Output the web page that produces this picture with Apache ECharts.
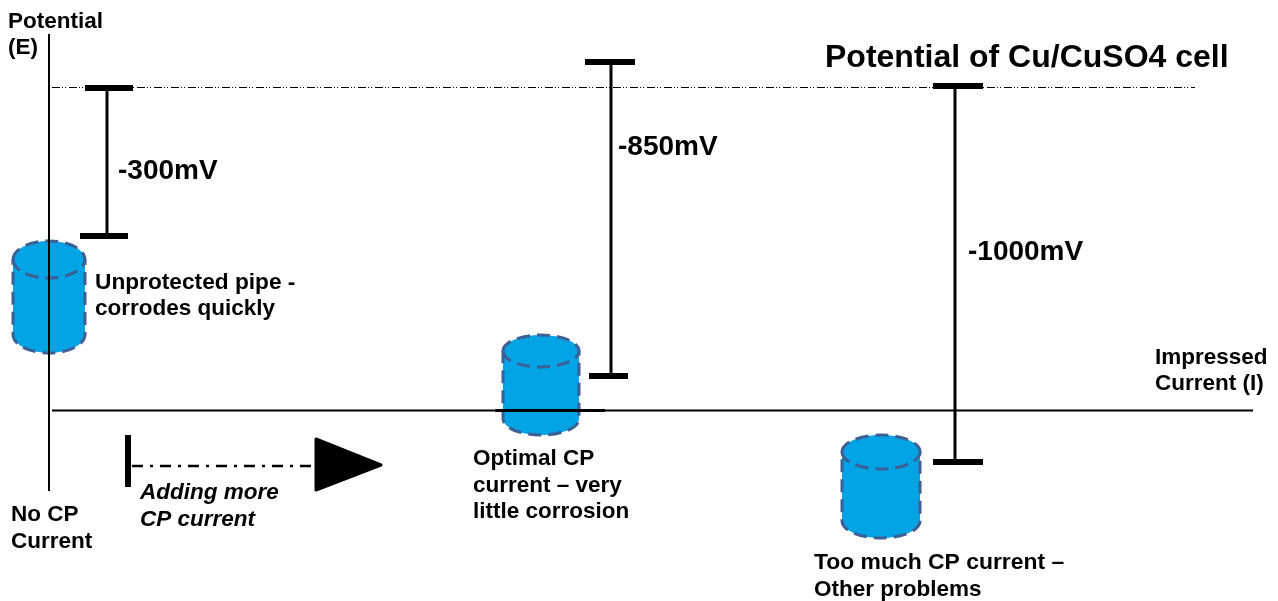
<!DOCTYPE html>
<html><head><meta charset="utf-8">
<style>html,body{margin:0;padding:0;background:#fff}#c{width:1278px;height:601px}</style>
<script src="https://cdn.jsdelivr.net/npm/echarts@6/dist/echarts.min.js"></script>
</head><body><div id="c"></div>
<script>
// Diagram units: x to the right, y downward.
const pipes = [ // cx, rx, top, ellipse bottom, base
  [49, 36, 241, 278, 353],
  [541, 38, 335, 367, 435],
  [881, 39, 435, 469, 538]
];
const axisSegments = [ // x1, y1, x2, y2, width
  [49, 34, 49, 491, 2],
  [52, 410.5, 1253, 410.5, 2],
  [495, 410.5, 605, 410.5, 3]
];
const potentialBars = [ // x1, y1, x2, y2, width
  [107, 88, 107, 236, 3], [85, 88, 133, 88, 6], [80, 236, 128, 236, 6],
  [611, 62, 611, 376, 3], [585, 62, 635, 62, 6], [589, 376, 628, 376, 6],
  [955, 86, 955, 462, 3], [933, 86, 983, 86, 6], [933, 462, 983, 462, 6],
  [128, 435, 128, 487, 6]
];
const dashedLines = [ // x1, y1, x2, y2, width, dash
  [52, 87.5, 1195, 87.5, 1, [8, 2, 1, 2, 1, 3]],
  [132, 466, 315, 466, 2.5, [11, 7, 3, 7]]
];
const arrowHead = [[316, 439], [381, 465], [316, 490]];
const labels = [ // text, x, y, size, italic
  ['Potential', 8, 21.5, 22.5, 0], ['(E)', 8, 47.5, 22.5, 0],
  ['Potential of Cu/CuSO4 cell', 825, 58, 32, 0],
  ['-300mV', 118, 171, 28, 0], ['-850mV', 618, 147, 28, 0], ['-1000mV', 968, 252, 28, 0],
  ['Unprotected pipe -', 95, 283, 22.7, 0], ['corrodes quickly', 95, 309, 22.5, 0],
  ['Optimal CP', 473, 459, 22.5, 0], ['current \u2013 very', 473, 486, 22.5, 0], ['little corrosion', 473, 512, 22.5, 0],
  ['Impressed', 1155, 358, 22.5, 0], ['Current (I)', 1155, 384, 22.5, 0],
  ['No CP', 11, 515, 22.5, 0], ['Current', 11, 542, 22.5, 0],
  ['Adding more', 140, 493, 22.5, 1], ['CP current', 140, 520, 22.5, 1],
  ['Too much CP current \u2013', 814, 563, 22.9, 0], ['Other problems', 814, 590, 22.5, 0]
];

const FILL = '#00A3E3', EDGE = '#3C5F95', FONT = '"Liberation Sans", Arial, sans-serif';

function seg(api, d) {
  const a = api.coord([d[0], d[1]]), b = api.coord([d[2], d[3]]);
  return { x1: a[0], y1: a[1], x2: b[0], y2: b[1] };
}
const lineSeries = (name, rows, z) => ({
  type: 'custom', name, coordinateSystem: 'cartesian2d', silent: true, z, clip: false,
  data: rows.map((r, i) => [r[0], r[1], i]),
  encode: { x: 0, y: 1 },
  renderItem: (p, api) => {
    const r = rows[api.value(2)];
    return { type: 'line', shape: seg(api, r),
      style: { stroke: '#000', lineWidth: r[4], lineDash: r[5] || null, fill: null } };
  }
});

const option = {
  animation: false,
  backgroundColor: '#fff',
  grid: { left: 0, right: 0, top: 0, bottom: 0 },
  xAxis: { type: 'value', min: 0, max: 1278, show: false },
  yAxis: { type: 'value', min: 0, max: 601, inverse: true, show: false },
  tooltip: { show: false },
  series: [
    {
      type: 'custom', name: 'Pipes', coordinateSystem: 'cartesian2d', silent: true, z: 2, clip: false,
      data: pipes.map((r, i) => [r[0], r[2], i]),
      encode: { x: 0, y: 1 },
      renderItem: (p, api) => {
        const [cx, rx, top, ellBottom, base] = pipes[api.value(2)];
        const l = api.coord([cx - rx, top])[0], r = api.coord([cx + rx, top])[0];
        const t = api.coord([cx, top])[1], eb = api.coord([cx, ellBottom])[1], b = api.coord([cx, base])[1];
        const ry = (eb - t) / 2, mid = t + ry, sb = b - ry, rxp = (r - l) / 2;
        const body = `M${l} ${mid}A${rxp} ${ry} 0 0 1 ${r} ${mid}L${r} ${sb}A${rxp} ${ry} 0 0 1 ${l} ${sb}Z`;
        const lip = `M${l} ${mid}A${rxp} ${ry} 0 0 0 ${r} ${mid}`;
        const edge = { stroke: EDGE, lineWidth: 3, lineDash: [13, 7] };
        return { type: 'group', children: [
          { type: 'path', shape: { pathData: body }, style: Object.assign({ fill: FILL }, edge) },
          { type: 'path', shape: { pathData: lip }, style: Object.assign({ fill: null }, edge) }
        ] };
      }
    },
    lineSeries('Dashed', dashedLines, 3),
    lineSeries('Axes', axisSegments, 4),
    lineSeries('Potential bars', potentialBars, 5),
    {
      type: 'custom', name: 'Arrow head', coordinateSystem: 'cartesian2d', silent: true, z: 5, clip: false,
      data: arrowHead,
      encode: { x: 0, y: 1 },
      renderItem: (p, api) => {
        if (p.dataIndex !== 0) return null;
        return { type: 'polygon', shape: { points: arrowHead.map(q => api.coord(q)) },
          style: { fill: '#000', stroke: '#000', lineWidth: 3, lineJoin: 'round' } };
      }
    },
    {
      type: 'custom', name: 'Labels', coordinateSystem: 'cartesian2d', silent: true, z: 6, clip: false,
      data: labels.map((r, i) => [r[1], r[2], i]),
      encode: { x: 0, y: 1 },
      renderItem: (p, api) => {
        const r = labels[api.value(2)], c = api.coord([r[1], r[2]]);
        return { type: 'text', x: c[0], y: c[1],
          style: { text: r[0], fill: '#000', align: 'left', verticalAlign: 'middle',
            font: `${r[4] ? 'italic ' : ''}bold ${r[3]}px ${FONT}` } };
      }
    }
  ]
};
echarts.init(document.getElementById('c'), null, { renderer: 'canvas' }).setOption(option);
</script></body></html>
